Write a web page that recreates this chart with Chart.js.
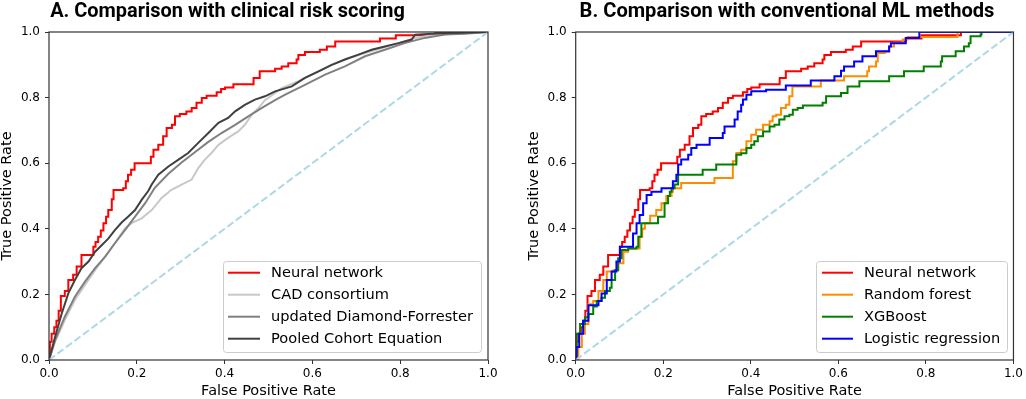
<!DOCTYPE html>
<html>
<head>
<meta charset="utf-8">
<script src="https://cdn.jsdelivr.net/npm/chart.js@4.4.1/dist/chart.umd.min.js"></script>
<style>
html, body { margin: 0; padding: 0; background: #fff; }
#wrap { position: relative; width: 1026px; height: 399px; }
.panel { position: absolute; top: 0; width: 513px; height: 399px; }
</style>
</head>
<body>
<div id="wrap">
  <div class="panel" style="left:0"><canvas id="chartA" width="513" height="399"></canvas></div>
  <div class="panel" style="left:513px"><canvas id="chartB" width="513" height="399"></canvas></div>
</div>
<script>
// ---- data ----
var axisTicks = [0.0, 0.2, 0.4, 0.6, 0.8, 1.0];
var titleA = "A. Comparison with clinical risk scoring";
var titleB = "B. Comparison with conventional ML methods";
var labelsA = ["Neural network", "CAD consortium", "updated Diamond-Forrester", "Pooled Cohort Equation"];
var labelsB = ["Neural network", "Random forest", "XGBoost", "Logistic regression"];

// neural network (same curve in both panels)
var nnFpr = [0, 0.002, 0.006, 0.012, 0.017, 0.022, 0.027, 0.036, 0.044, 0.055, 0.063, 0.074, 0.101, 0.106, 0.112, 0.118, 0.124, 0.13, 0.135, 0.143, 0.147, 0.169, 0.175, 0.18, 0.187, 0.195, 0.232, 0.238, 0.249, 0.26, 0.268, 0.28, 0.287, 0.298, 0.313, 0.325, 0.336, 0.348, 0.359, 0.382, 0.392, 0.401, 0.42, 0.466, 0.48, 0.515, 0.53, 0.545, 0.564, 0.568, 0.583, 0.617, 0.633, 0.652, 0.754, 0.79, 0.88, 1];
var nnTpr = [0, 0.056, 0.08, 0.10, 0.12, 0.15, 0.195, 0.21, 0.244, 0.26, 0.285, 0.32, 0.345, 0.36, 0.376, 0.395, 0.417, 0.437, 0.457, 0.49, 0.518, 0.524, 0.545, 0.565, 0.58, 0.60, 0.62, 0.641, 0.656, 0.682, 0.707, 0.717, 0.743, 0.75, 0.758, 0.768, 0.784, 0.799, 0.806, 0.816, 0.826, 0.831, 0.841, 0.86, 0.88, 0.888, 0.895, 0.905, 0.916, 0.93, 0.939, 0.946, 0.956, 0.971, 0.98, 0.99, 1.0, 1.0];

var cadFpr = [0, 0.014, 0.036, 0.059, 0.082, 0.105, 0.128, 0.15, 0.173, 0.188, 0.211, 0.234, 0.257, 0.279, 0.302, 0.325, 0.34, 0.355, 0.37, 0.386, 0.408, 0.431, 0.446, 0.462, 0.477, 0.492, 0.53, 0.568, 0.606, 0.644, 0.682, 0.72, 0.758, 0.796, 0.834, 0.872, 0.917, 1];
var cadTpr = [0, 0.056, 0.122, 0.183, 0.229, 0.274, 0.315, 0.356, 0.401, 0.417, 0.432, 0.457, 0.495, 0.519, 0.535, 0.55, 0.585, 0.611, 0.631, 0.656, 0.677, 0.697, 0.717, 0.748, 0.768, 0.792, 0.829, 0.85, 0.875, 0.9, 0.92, 0.936, 0.951, 0.966, 0.982, 0.99, 0.995, 1];

var dfFpr = [0, 0.014, 0.036, 0.059, 0.082, 0.105, 0.128, 0.15, 0.173, 0.196, 0.219, 0.241, 0.272, 0.302, 0.333, 0.363, 0.393, 0.424, 0.454, 0.484, 0.515, 0.538, 0.583, 0.629, 0.674, 0.72, 0.765, 0.81, 0.856, 0.902, 0.947, 1];
var dfTpr = [0, 0.061, 0.132, 0.193, 0.239, 0.28, 0.315, 0.356, 0.396, 0.437, 0.478, 0.525, 0.568, 0.602, 0.634, 0.665, 0.692, 0.717, 0.743, 0.768, 0.792, 0.809, 0.839, 0.87, 0.895, 0.926, 0.946, 0.966, 0.982, 0.992, 0.995, 1];

var pceFpr = [0, 0.014, 0.029, 0.044, 0.059, 0.074, 0.09, 0.105, 0.12, 0.135, 0.15, 0.166, 0.18, 0.196, 0.211, 0.226, 0.234, 0.249, 0.272, 0.295, 0.317, 0.34, 0.363, 0.386, 0.408, 0.424, 0.446, 0.469, 0.492, 0.515, 0.553, 0.583, 0.614, 0.644, 0.674, 0.705, 0.735, 0.765, 0.796, 0.826, 0.834, 0.872, 0.917, 1];
var pceTpr = [0, 0.071, 0.142, 0.203, 0.244, 0.28, 0.3, 0.33, 0.35, 0.37, 0.396, 0.42, 0.437, 0.457, 0.488, 0.515, 0.535, 0.565, 0.59, 0.611, 0.631, 0.662, 0.692, 0.723, 0.738, 0.758, 0.778, 0.794, 0.804, 0.819, 0.834, 0.86, 0.88, 0.9, 0.916, 0.931, 0.946, 0.956, 0.966, 0.977, 0.992, 0.995, 0.997, 1];

var rfFpr = [0, 0.006, 0.014, 0.021, 0.029, 0.04, 0.052, 0.063, 0.071, 0.086, 0.097, 0.109, 0.12, 0.146, 0.152, 0.158, 0.17, 0.184, 0.196, 0.207, 0.219, 0.222, 0.241, 0.317, 0.359, 0.367, 0.378, 0.39, 0.401, 0.412, 0.428, 0.443, 0.45, 0.458, 0.469, 0.48, 0.488, 0.495, 0.56, 0.613, 0.666, 0.67, 0.686, 0.69, 0.706, 0.716, 0.727, 0.747, 0.758, 0.872, 1];
var rfTpr = [0, 0.04, 0.08, 0.11, 0.17, 0.18, 0.21, 0.244, 0.27, 0.274, 0.295, 0.33, 0.34, 0.376, 0.40, 0.417, 0.44, 0.457, 0.478, 0.5, 0.513, 0.524, 0.54, 0.555, 0.606, 0.631, 0.641, 0.667, 0.687, 0.702, 0.717, 0.728, 0.743, 0.748, 0.768, 0.778, 0.804, 0.834, 0.852, 0.865, 0.88, 0.895, 0.91, 0.936, 0.94, 0.956, 0.967, 0.977, 0.985, 1.0, 1.0];

var xgbFpr = [0, 0.002, 0.01, 0.021, 0.029, 0.04, 0.048, 0.059, 0.067, 0.078, 0.082, 0.09, 0.097, 0.105, 0.12, 0.139, 0.143, 0.15, 0.188, 0.203, 0.211, 0.215, 0.219, 0.226, 0.234, 0.29, 0.321, 0.367, 0.378, 0.39, 0.401, 0.408, 0.416, 0.428, 0.443, 0.454, 0.465, 0.477, 0.488, 0.496, 0.507, 0.519, 0.564, 0.572, 0.606, 0.621, 0.648, 0.716, 0.75, 0.795, 0.834, 0.837, 0.868, 0.887, 0.898, 0.902, 0.925, 0.927, 1];
var xgbTpr = [0, 0.08, 0.11, 0.13, 0.14, 0.163, 0.18, 0.19, 0.21, 0.22, 0.244, 0.274, 0.31, 0.335, 0.34, 0.345, 0.376, 0.417, 0.437, 0.478, 0.5, 0.513, 0.524, 0.535, 0.565, 0.58, 0.596, 0.626, 0.63, 0.646, 0.656, 0.667, 0.682, 0.697, 0.712, 0.717, 0.733, 0.743, 0.748, 0.763, 0.768, 0.776, 0.784, 0.804, 0.814, 0.834, 0.85, 0.865, 0.88, 0.895, 0.91, 0.926, 0.941, 0.956, 0.966, 0.987, 0.992, 1.0, 1.0];

var lrFpr = [0, 0.002, 0.008, 0.017, 0.029, 0.052, 0.059, 0.071, 0.082, 0.093, 0.101, 0.131, 0.139, 0.146, 0.154, 0.162, 0.173, 0.196, 0.222, 0.23, 0.234, 0.241, 0.257, 0.264, 0.276, 0.306, 0.336, 0.34, 0.363, 0.37, 0.378, 0.382, 0.39, 0.401, 0.435, 0.48, 0.537, 0.591, 0.606, 0.613, 0.636, 0.655, 0.686, 0.716, 0.72, 0.754, 0.785, 1];
var lrTpr = [0, 0.04, 0.08, 0.12, 0.167, 0.18, 0.203, 0.244, 0.27, 0.30, 0.345, 0.386, 0.417, 0.442, 0.478, 0.503, 0.513, 0.524, 0.545, 0.565, 0.596, 0.611, 0.626, 0.646, 0.656, 0.677, 0.692, 0.712, 0.733, 0.758, 0.778, 0.794, 0.809, 0.819, 0.824, 0.837, 0.852, 0.865, 0.882, 0.895, 0.91, 0.926, 0.941, 0.956, 0.966, 0.982, 1.0, 1.0];

var chanceFpr = [0, 1];
var chanceTpr = [0, 1];

// ---- helpers ----
function toPoints(xs, ys) {
    return xs.map(function (x, i) { return {x: x, y: ys[i]}; });
}
function curve(label, xs, ys, color, stepped, order) {
    return {
        label: label,
        data: toPoints(xs, ys),
        borderColor: color,
        backgroundColor: color,
        borderWidth: 2,
        pointRadius: 0,
        fill: false,
        tension: 0,
        stepped: stepped,
        order: order
    };
}
function chanceLine() {
    return {
        label: "",
        data: toPoints(chanceFpr, chanceTpr),
        borderColor: "#add8e6",
        borderWidth: 2,
        borderDash: [7.4, 3.2],
        pointRadius: 0,
        fill: false,
        order: 0
    };
}

// box round the plot, like matplotlib spines
var framePlugin = {
    id: "frame",
    afterDatasetsDraw: function (chart) {
        var a = chart.chartArea, ctx = chart.ctx;
        ctx.save();
        ctx.strokeStyle = "#333333";
        ctx.lineWidth = 1.2;
        ctx.strokeRect(a.left, a.top, a.right - a.left, a.bottom - a.top);
        ctx.restore();
    }
};

var panelTitlePlugin = {
    id: "panelTitle",
    afterDraw: function (chart, args, opts) {
        var ctx = chart.ctx;
        ctx.save();
        ctx.font = "bold 20px Roboto";
        var w = ctx.measureText(opts.text).width;
        var size = 20 * opts.width / w;
        ctx.font = "bold " + size.toFixed(2) + "px Roboto";
        ctx.fillStyle = "#000";
        ctx.textAlign = "center";
        ctx.textBaseline = "alphabetic";
        ctx.fillText(opts.text, opts.x, opts.y);
        ctx.restore();
    }
};

var legendBoxPlugin = {
    id: "legendBox",
    afterDraw: function (chart, args, opts) {
        var ctx = chart.ctx;
        var items = chart.data.datasets.filter(function (d) { return d.label; });
        ctx.save();
        ctx.beginPath();
        ctx.roundRect(opts.x + 0.5, opts.y + 0.5, opts.w, opts.h, 3);
        ctx.fillStyle = "rgba(255,255,255,0.8)";
        ctx.fill();
        ctx.strokeStyle = "#cccccc";
        ctx.lineWidth = 1;
        ctx.stroke();
        ctx.font = "14.6px 'DejaVu Sans'";
        ctx.textBaseline = "middle";
        items.forEach(function (d, i) {
            var y = opts.firstY + i * opts.step;
            ctx.strokeStyle = d.borderColor;
            ctx.lineWidth = 2;
            ctx.beginPath();
            ctx.moveTo(opts.lineX0, y);
            ctx.lineTo(opts.lineX1, y);
            ctx.stroke();
            ctx.fillStyle = "#000";
            ctx.fillText(d.label, opts.textX, y + 0.5);
        });
        ctx.restore();
    }
};

function axis(title, yAxisWidth, isX, titlePad) {
    return {
        type: "linear",
        min: 0,
        max: 1,
        afterBuildTicks: function (scale) {
            scale.ticks = axisTicks.map(function (v) { return {value: v}; });
        },
        afterFit: function (scale) {
            if (isX) scale.height = 39; else scale.width = yAxisWidth;
        },
        ticks: {
            color: "#000",
            font: {family: "DejaVu Sans", size: 12},
            padding: isX ? 3 : 5,
            maxRotation: 0,
            callback: function (v) { return Number(v).toFixed(1); }
        },
        grid: {drawOnChartArea: false, drawTicks: true, tickLength: 4, color: "#333333", tickWidth: 1},
        border: {display: false},
        title: {
            display: true,
            text: title,
            color: "#000",
            font: {family: "DejaVu Sans", size: 14.5, lineHeight: 1},
            padding: titlePad
        }
    };
}

function makeChart(id, datasets, o) {
    return new Chart(document.getElementById(id).getContext("2d"), {
        type: "line",
        data: {datasets: datasets},
        options: {
            responsive: false,
            animation: false,
            devicePixelRatio: 1,
            layout: {padding: {top: 32, right: o.rightPad, bottom: 0, left: 0}},
            scales: {
                x: axis("False Positive Rate", 0, true, {top: 0, bottom: 0.8}),
                y: axis("True Positive Rate", o.yWidth, false, {top: o.yTitlePad, bottom: 0})
            },
            plugins: {
                legend: {display: false},
                tooltip: {enabled: false},
                panelTitle: o.title,
                legendBox: o.legend
            }
        },
        plugins: [framePlugin, panelTitlePlugin, legendBoxPlugin]
    });
}

makeChart("chartA", [
    curve(labelsA[0], nnFpr, nnTpr, "#ff0000", true, 5),
    curve(labelsA[1], cadFpr, cadTpr, "#c8c8c8", false, 4),
    curve(labelsA[2], dfFpr, dfTpr, "#808080", false, 3),
    curve(labelsA[3], pceFpr, pceTpr, "#404040", false, 2),
    chanceLine()
], {
    rightPad: 25, yWidth: 49, yTitlePad: 0.3,
    title: {text: titleA, x: 227.5, y: 16.7, width: 355},
    legend: {x: 223, y: 261, w: 258, h: 91, firstY: 272.7, step: 22, lineX0: 228, lineX1: 260, textX: 271}
});

makeChart("chartB", [
    curve(labelsB[0], nnFpr, nnTpr, "#ff0000", true, 5),
    curve(labelsB[1], rfFpr, rfTpr, "#ff8c00", true, 4),
    curve(labelsB[2], xgbFpr, xgbTpr, "#008000", true, 3),
    curve(labelsB[3], lrFpr, lrTpr, "#0000ff", true, 2),
    chanceLine()
], {
    rightPad: 11.3, yWidth: 62.7, yTitlePad: 13.8,
    title: {text: titleB, x: 274, y: 16.7, width: 415},
    legend: {x: 303, y: 261, w: 191, h: 91, firstY: 272.7, step: 22, lineX0: 309, lineX1: 340, textX: 351}
});
</script>
</body>
</html>
